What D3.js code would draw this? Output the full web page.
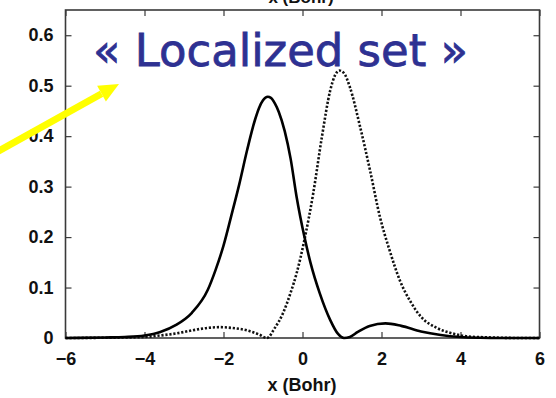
<!DOCTYPE html>
<html>
<head>
<meta charset="utf-8">
<script src="https://cdn.jsdelivr.net/npm/d3@7"></script>
<style>
  html, body { margin: 0; padding: 0; background: #fff; }
  svg { display: block; }
</style>
</head>
<body>
<svg id="chart" width="556" height="398"></svg>
<script>
// Tick values
const xTicks = [-6, -4, -2, 0, 2, 4, 6];
const yTicks = [0, 0.1, 0.2, 0.3, 0.4, 0.5, 0.6];

// Solid curve: density of the first localized function
const solidX = [-6, -5, -4.5, -4, -3.6, -3.2, -2.8, -2.4, -2.2, -2.0, -1.8, -1.6, -1.4, -1.2, -1.1, -1.0, -0.88, -0.8, -0.7, -0.6, -0.45, -0.3, -0.15, 0.05, 0.2, 0.44, 0.7, 0.9, 1.05, 1.2, 1.4, 1.7, 2.1, 2.5, 3.0, 3.5, 4.0, 4.5, 5.0, 6];
const solidY = [0, 0.001, 0.002, 0.005, 0.012, 0.026, 0.05, 0.095, 0.135, 0.183, 0.243, 0.305, 0.373, 0.433, 0.456, 0.471, 0.478, 0.476, 0.465, 0.448, 0.41, 0.355, 0.28, 0.2, 0.15, 0.088, 0.036, 0.008, 0.0, 0.002, 0.012, 0.024, 0.029, 0.024, 0.013, 0.006, 0.002, 0.0005, 0, 0];

// Dotted curve: density of the second localized function
const dotX = [-6, -5, -4.5, -4, -3.6, -3.2, -2.8, -2.4, -2.1, -1.8, -1.4, -1.1, -0.9, -0.7, -0.5, -0.3, -0.15, 0.05, 0.27, 0.49, 0.7, 0.82, 0.93, 1.05, 1.2, 1.46, 1.71, 1.96, 2.2, 2.47, 2.75, 3.0, 3.4, 3.8, 4.2, 4.8, 5.5, 6];
const dotY = [0, 0.0005, 0.001, 0.002, 0.005, 0.009, 0.015, 0.02, 0.0215, 0.02, 0.015, 0.007, 0.0, 0.02, 0.048, 0.09, 0.128, 0.195, 0.286, 0.398, 0.49, 0.52, 0.53, 0.525, 0.497, 0.418, 0.332, 0.24, 0.175, 0.113, 0.07, 0.042, 0.02, 0.009, 0.003, 0.001, 0, 0];

const svg = d3.select("#chart");
const plotL = 65.5, plotR = 539.5, plotT = 10, plotB = 338;

const x = d3.scaleLinear().domain([-6, 6]).range([plotL, plotR]);
const y = d3.scaleLinear().domain([0, 0.65]).range([plotB, plotT]);

const frameColor = "#3a3a3a";
const tickFont = "bold 18px 'Liberation Sans', Arial, sans-serif";

// cropped axis title above the frame
svg.append("text")
  .attr("x", 301).attr("y", 3)
  .attr("text-anchor", "middle")
  .style("font", "bold 17px 'Liberation Sans', Arial, sans-serif")
  .attr("fill", "#111")
  .text("x (Bohr)");

// Axes with inward ticks on all four sides
const gB = svg.append("g").attr("transform", `translate(0,${plotB})`)
  .call(d3.axisBottom(x).tickValues(xTicks).tickSizeInner(-6).tickSizeOuter(0).tickPadding(14).tickFormat(d3.format("d")));
const gT = svg.append("g").attr("transform", `translate(0,${plotT})`)
  .call(d3.axisTop(x).tickValues(xTicks).tickSizeInner(-6).tickSizeOuter(0).tickFormat(""));
const gL = svg.append("g").attr("transform", `translate(${plotL},0)`)
  .call(d3.axisLeft(y).tickValues(yTicks).tickSizeInner(-6).tickSizeOuter(0).tickPadding(12)
    .tickFormat(d => d === 0 ? "0" : d3.format(".1f")(d)));
const gR = svg.append("g").attr("transform", `translate(${plotR},0)`)
  .call(d3.axisRight(y).tickValues(yTicks).tickSizeInner(-6).tickSizeOuter(0).tickFormat(""));

[gB, gT, gL, gR].forEach(g => {
  g.select(".domain").remove();
  g.selectAll(".tick line").attr("stroke", frameColor).attr("stroke-width", 1.2);
  g.selectAll(".tick text").style("font", tickFont).attr("fill", "#111");
});
gB.selectAll(".tick text").attr("dy", "0.71em");

// Frame
svg.append("rect")
  .attr("x", plotL).attr("y", plotT)
  .attr("width", plotR - plotL).attr("height", plotB - plotT)
  .attr("fill", "none").attr("stroke", frameColor).attr("stroke-width", 1.6);

// Curves
const line = d3.line()
  .x(d => x(d[0])).y(d => y(d[1]))
  .curve(d3.curveMonotoneX);

svg.append("path")
  .datum(dotX.map((v, i) => [v, dotY[i]]))
  .attr("d", line)
  .attr("fill", "none").attr("stroke", "#111")
  .attr("stroke-width", 2.6).attr("stroke-dasharray", "2.2,1.8");

svg.append("path")
  .datum(solidX.map((v, i) => [v, solidY[i]]))
  .attr("d", line)
  .attr("fill", "none").attr("stroke", "#000")
  .attr("stroke-width", 2.6).attr("stroke-linejoin", "round");

// bottom axis title
svg.append("text")
  .attr("x", 302).attr("y", 391)
  .attr("text-anchor", "middle")
  .style("font", "bold 18px 'Liberation Sans', Arial, sans-serif")
  .attr("fill", "#111")
  .text("x (Bohr)");

// Annotation: label and yellow pointer
svg.append("text")
  .attr("x", 93).attr("y", 66)
  .attr("textLength", 375).attr("lengthAdjust", "spacingAndGlyphs")
  .style("font", "45px 'DejaVu Sans', sans-serif")
  .attr("fill", "#2e3192")
  .attr("stroke", "#2e3192").attr("stroke-width", 0.8)
  .text("« Localized set »");

const tip = [119, 84], tail = [-12, 157];
const ang = Math.atan2(tip[1] - tail[1], tip[0] - tail[0]);
const headLen = 20, headHalf = 9;
const base = [tip[0] - headLen * Math.cos(ang), tip[1] - headLen * Math.sin(ang)];
svg.append("line")
  .attr("x1", tail[0]).attr("y1", tail[1])
  .attr("x2", base[0]).attr("y2", base[1])
  .attr("stroke", "#ffff00").attr("stroke-width", 7);
svg.append("path")
  .attr("d", d3.line()([
    tip,
    [base[0] + headHalf * Math.sin(ang), base[1] - headHalf * Math.cos(ang)],
    [base[0] - headHalf * Math.sin(ang), base[1] + headHalf * Math.cos(ang)]
  ]) + "Z")
  .attr("fill", "#ffff00");
</script>
</body>
</html>
